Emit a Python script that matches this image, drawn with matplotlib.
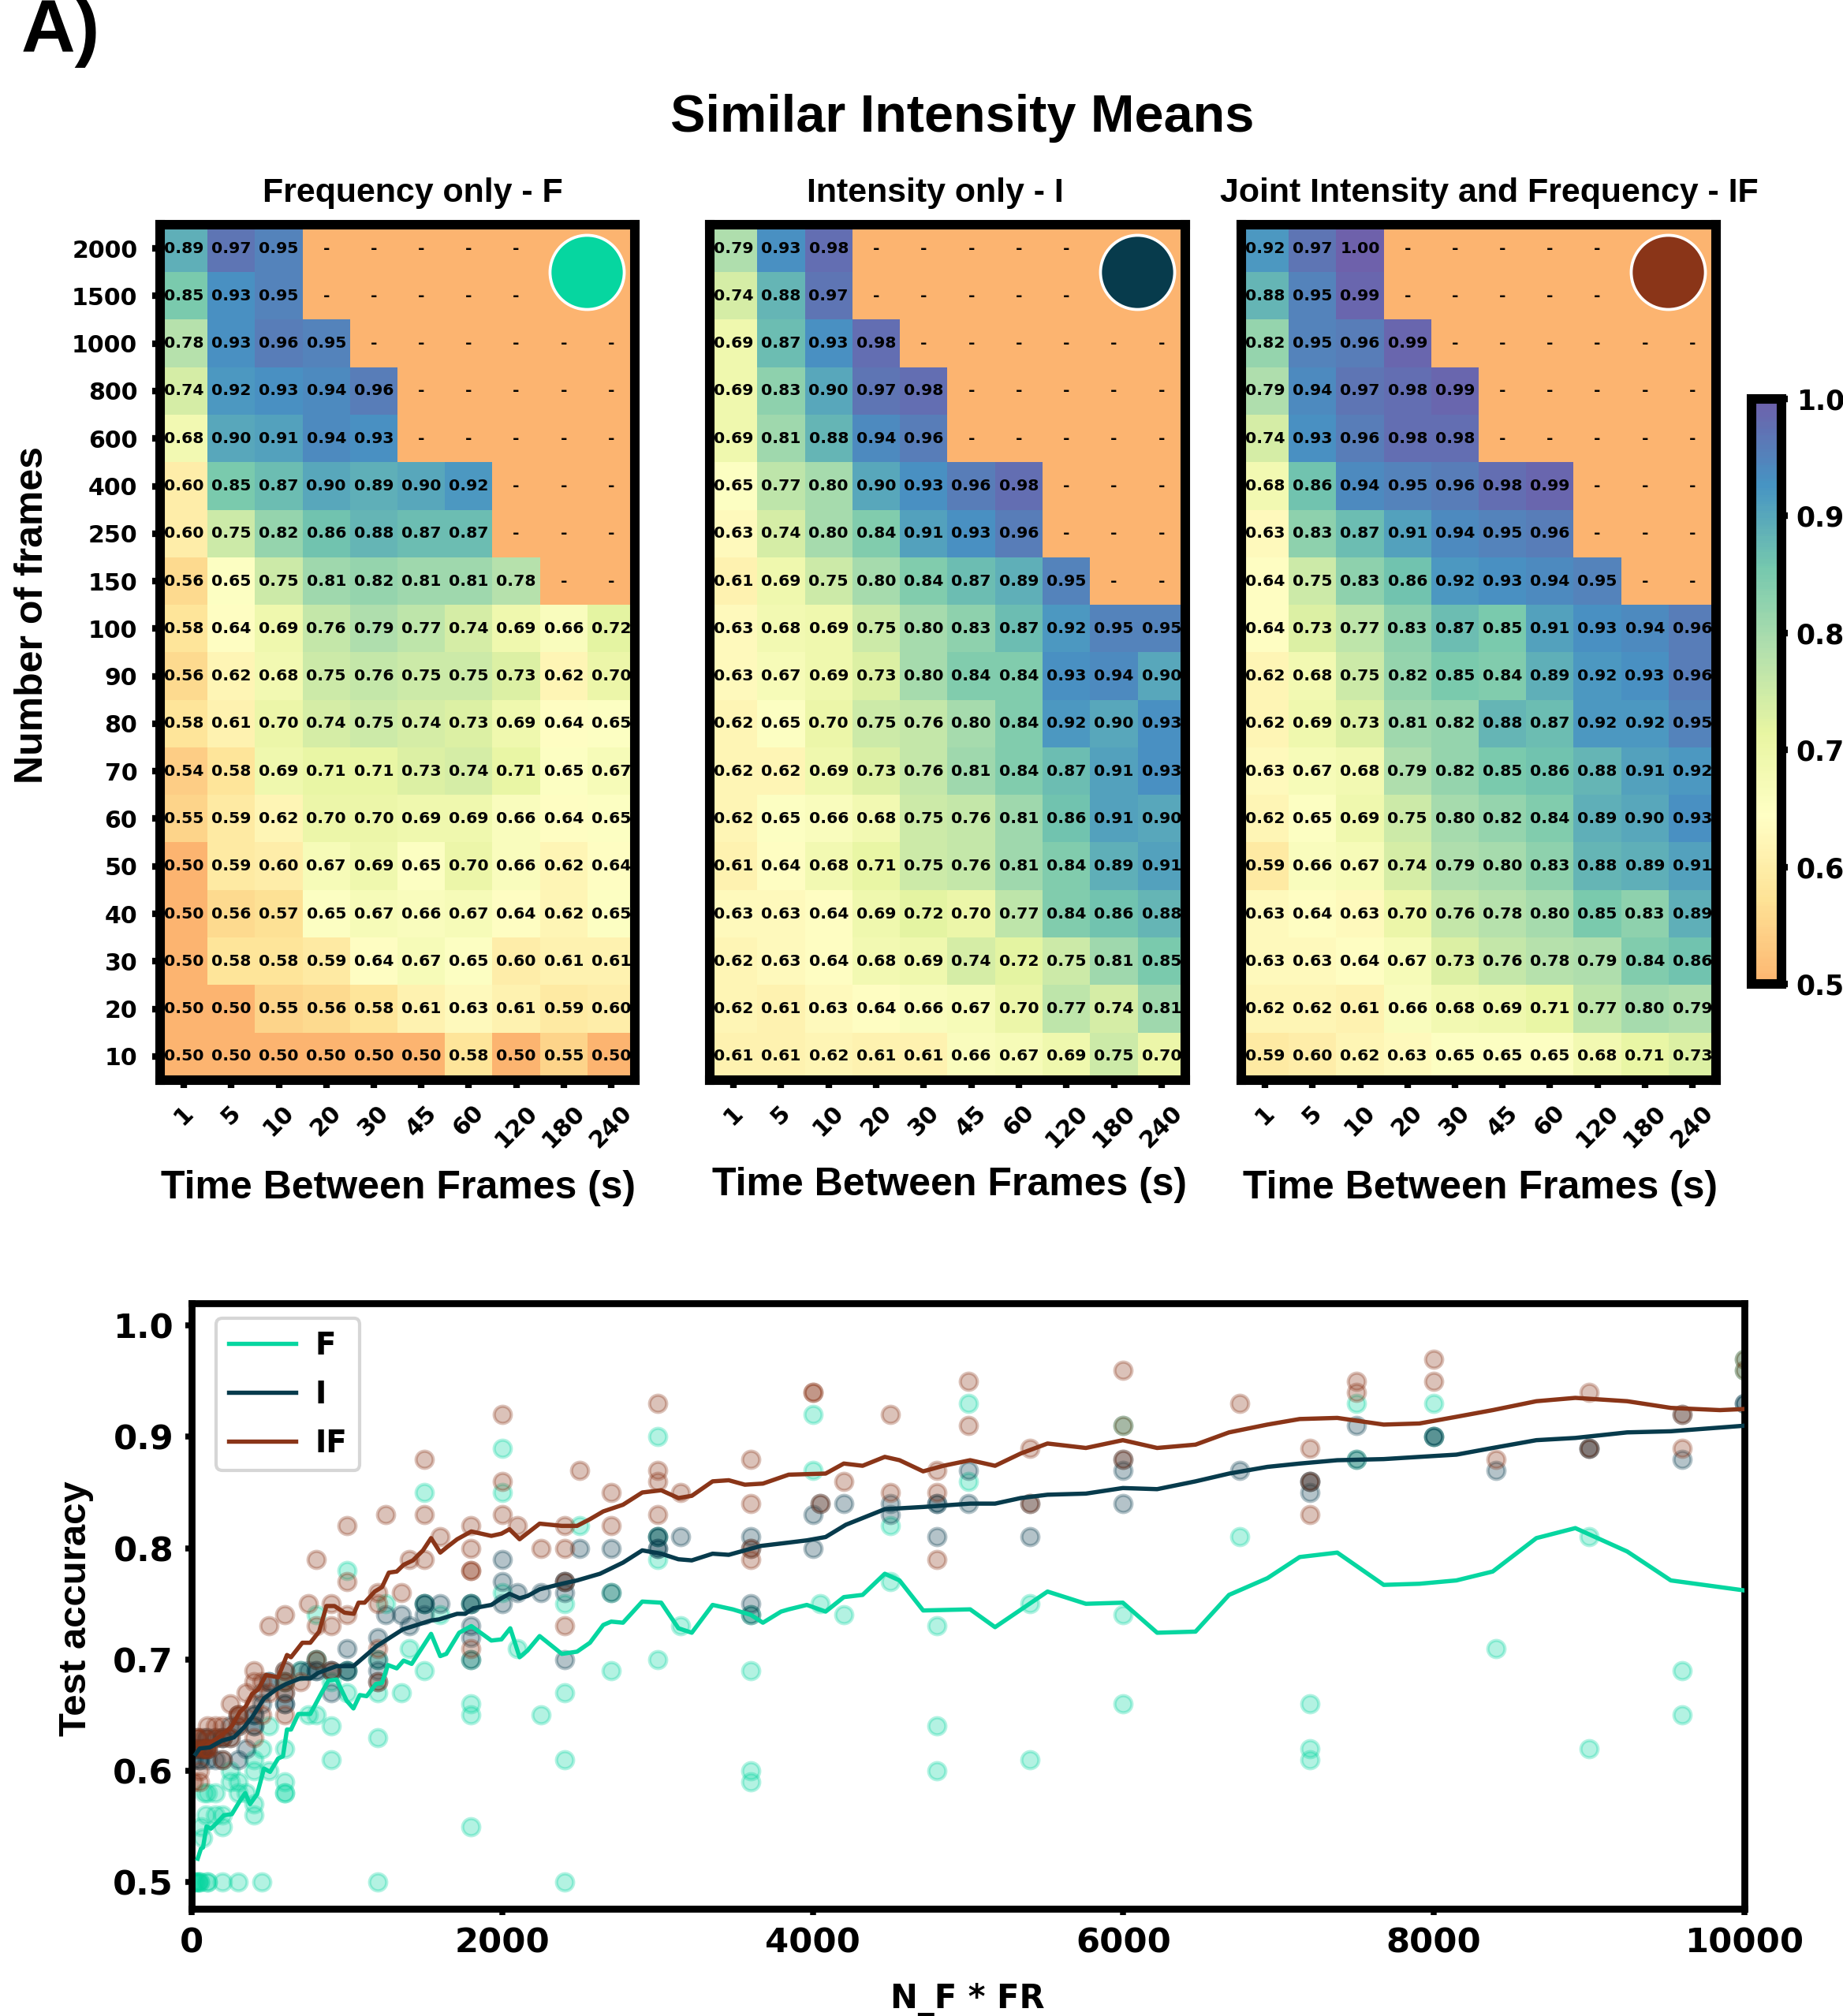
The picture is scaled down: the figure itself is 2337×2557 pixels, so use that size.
import numpy as np
import matplotlib
matplotlib.use("Agg")
import matplotlib.pyplot as plt
from matplotlib.colors import LinearSegmentedColormap

W, H = 2337, 2557
DPI = 300

frames = [2000, 1500, 1000, 800, 600, 400, 250, 150, 100, 90, 80, 70, 60, 50, 40, 30, 20, 10]
times = [1, 5, 10, 20, 30, 45, 60, 120, 180, 240]

N = None
acc_f = [
    [.89, .97, .95, N, N, N, N, N, N, N],
    [.85, .93, .95, N, N, N, N, N, N, N],
    [.78, .93, .96, .95, N, N, N, N, N, N],
    [.74, .92, .93, .94, .96, N, N, N, N, N],
    [.68, .90, .91, .94, .93, N, N, N, N, N],
    [.60, .85, .87, .90, .89, .90, .92, N, N, N],
    [.60, .75, .82, .86, .88, .87, .87, N, N, N],
    [.56, .65, .75, .81, .82, .81, .81, .78, N, N],
    [.58, .64, .69, .76, .79, .77, .74, .69, .66, .72],
    [.56, .62, .68, .75, .76, .75, .75, .73, .62, .70],
    [.58, .61, .70, .74, .75, .74, .73, .69, .64, .65],
    [.54, .58, .69, .71, .71, .73, .74, .71, .65, .67],
    [.55, .59, .62, .70, .70, .69, .69, .66, .64, .65],
    [.50, .59, .60, .67, .69, .65, .70, .66, .62, .64],
    [.50, .56, .57, .65, .67, .66, .67, .64, .62, .65],
    [.50, .58, .58, .59, .64, .67, .65, .60, .61, .61],
    [.50, .50, .55, .56, .58, .61, .63, .61, .59, .60],
    [.50, .50, .50, .50, .50, .50, .58, .50, .55, .50],
]
acc_i = [
    [.79, .93, .98, N, N, N, N, N, N, N],
    [.74, .88, .97, N, N, N, N, N, N, N],
    [.69, .87, .93, .98, N, N, N, N, N, N],
    [.69, .83, .90, .97, .98, N, N, N, N, N],
    [.69, .81, .88, .94, .96, N, N, N, N, N],
    [.65, .77, .80, .90, .93, .96, .98, N, N, N],
    [.63, .74, .80, .84, .91, .93, .96, N, N, N],
    [.61, .69, .75, .80, .84, .87, .89, .95, N, N],
    [.63, .68, .69, .75, .80, .83, .87, .92, .95, .95],
    [.63, .67, .69, .73, .80, .84, .84, .93, .94, .90],
    [.62, .65, .70, .75, .76, .80, .84, .92, .90, .93],
    [.62, .62, .69, .73, .76, .81, .84, .87, .91, .93],
    [.62, .65, .66, .68, .75, .76, .81, .86, .91, .90],
    [.61, .64, .68, .71, .75, .76, .81, .84, .89, .91],
    [.63, .63, .64, .69, .72, .70, .77, .84, .86, .88],
    [.62, .63, .64, .68, .69, .74, .72, .75, .81, .85],
    [.62, .61, .63, .64, .66, .67, .70, .77, .74, .81],
    [.61, .61, .62, .61, .61, .66, .67, .69, .75, .70],
]
acc_if = [
    [.92, .97, 1.00, N, N, N, N, N, N, N],
    [.88, .95, .99, N, N, N, N, N, N, N],
    [.82, .95, .96, .99, N, N, N, N, N, N],
    [.79, .94, .97, .98, .99, N, N, N, N, N],
    [.74, .93, .96, .98, .98, N, N, N, N, N],
    [.68, .86, .94, .95, .96, .98, .99, N, N, N],
    [.63, .83, .87, .91, .94, .95, .96, N, N, N],
    [.64, .75, .83, .86, .92, .93, .94, .95, N, N],
    [.64, .73, .77, .83, .87, .85, .91, .93, .94, .96],
    [.62, .68, .75, .82, .85, .84, .89, .92, .93, .96],
    [.62, .69, .73, .81, .82, .88, .87, .92, .92, .95],
    [.63, .67, .68, .79, .82, .85, .86, .88, .91, .92],
    [.62, .65, .69, .75, .80, .82, .84, .89, .90, .93],
    [.59, .66, .67, .74, .79, .80, .83, .88, .89, .91],
    [.63, .64, .63, .70, .76, .78, .80, .85, .83, .89],
    [.63, .63, .64, .67, .73, .76, .78, .79, .84, .86],
    [.62, .62, .61, .66, .68, .69, .71, .77, .80, .79],
    [.59, .60, .62, .63, .65, .65, .65, .68, .71, .73],
]

# trend lines
line_f_x = [39, 60, 73, 96, 124, 168, 207, 259, 311, 345, 376, 422, 466, 505, 557, 588, 614, 640, 687, 764,
            829, 881, 933, 998, 1042, 1083, 1127, 1187, 1226, 1264, 1321, 1365, 1417, 1542, 1601, 1640, 1723,
            1801, 1930, 1995, 2052, 2112, 2163, 2241, 2384, 2482, 2565, 2651, 2702, 2778, 2902, 3024, 3135,
            3221, 3355, 3485, 3602, 3679, 3796, 3845, 3962, 4083, 4200, 4321, 4464, 4559, 4711, 5014, 5174,
            5512, 5759, 5997, 6218, 6465, 6681, 6928, 7136, 7378, 7677, 7907, 8145, 8379, 8660, 8911, 9245,
            9526, 10000]
line_f_y = [.521, .530, .531, .550, .548, .554, .560, .561, .573, .580, .570, .579, .602, .599, .611, .613,
            .637, .637, .651, .651, .668, .681, .682, .663, .656, .668, .667, .678, .679, .695, .692, .699,
            .696, .723, .703, .705, .724, .730, .717, .718, .728, .702, .708, .721, .705, .707, .715, .731,
            .734, .733, .752, .751, .728, .724, .749, .745, .740, .733, .743, .745, .749, .743, .756, .758,
            .777, .771, .744, .745, .729, .761, .750, .751, .724, .725, .758, .773, .792, .796, .767, .768,
            .771, .779, .809, .818, .797, .771, .762]
line_i_x = [26, 52, 117, 194, 272, 337, 389, 466, 544, 609, 700, 764, 816, 933, 1042, 1192, 1360, 1542, 1593,
            1710, 1762, 1814, 1930, 1995, 2047, 2112, 2163, 2241, 2384, 2482, 2630, 2778, 2902, 3024, 3135,
            3221, 3355, 3459, 3666, 3845, 3962, 4083, 4213, 4464, 4711, 5014, 5174, 5339, 5512, 5759, 5997,
            6218, 6465, 6681, 6928, 7136, 7378, 7677, 7907, 8145, 8379, 8660, 8911, 9245, 9526, 10000]
line_i_y = [.615, .620, .621, .627, .630, .639, .648, .665, .673, .678, .683, .683, .688, .694, .694, .712,
            .727, .735, .736, .741, .741, .746, .749, .755, .759, .755, .757, .763, .768, .771, .777, .787,
            .798, .795, .790, .789, .795, .794, .802, .805, .807, .810, .821, .835, .837, .840, .840, .845,
            .848, .849, .854, .853, .860, .867, .873, .876, .879, .880, .882, .884, .890, .897, .899, .904,
            .905, .910]
line_if_x = [39, 78, 130, 194, 259, 311, 350, 389, 428, 479, 557, 614, 640, 713, 764, 821, 868, 920, 985, 1044,
             1075, 1114, 1179, 1226, 1270, 1321, 1365, 1425, 1490, 1542, 1601, 1645, 1710, 1801, 1930, 1995,
             2047, 2112, 2241, 2384, 2482, 2565, 2651, 2778, 2902, 3024, 3135, 3221, 3355, 3459, 3563, 3679,
             3845, 4083, 4200, 4321, 4464, 4559, 4711, 4841, 5014, 5174, 5339, 5512, 5759, 5997, 6218, 6465,
             6681, 6928, 7136, 7378, 7677, 7907, 8145, 8379, 8660, 8911, 9245, 9526, 9842, 10000]
line_if_y = [.617, .620, .626, .632, .640, .653, .658, .669, .673, .686, .684, .704, .702, .715, .715, .725,
             .748, .748, .742, .741, .751, .751, .761, .765, .778, .779, .785, .789, .798, .809, .796, .801,
             .808, .815, .811, .813, .817, .808, .822, .820, .820, .826, .833, .839, .850, .852, .845, .847,
             .860, .861, .857, .858, .866, .867, .876, .874, .882, .879, .869, .874, .879, .874, .885, .894,
             .890, .897, .890, .893, .904, .911, .916, .917, .911, .912, .918, .924, .932, .935, .932, .926,
             .924, .925]

COL_F = "#06D6A0"
COL_I = "#073B4C"
COL_IF = "#8A3518"
HEAD = "Liberation Sans"

plt.rcParams["font.family"] = "DejaVu Sans"
plt.rcParams["font.weight"] = "bold"

fig = plt.figure(figsize=(W / DPI, H / DPI), dpi=DPI)


def px_axes(left, top, right, bottom):
    return fig.add_axes([left / W, 1 - bottom / H, (right - left) / W, (bottom - top) / H])


def px_text(x, y, s, **kw):
    return fig.text(x / W, 1 - y / H, s, family=HEAD, fontweight="bold", **kw)


spectral = plt.get_cmap("Spectral")
cmap = LinearSegmentedColormap.from_list("spec_cut", spectral(np.linspace(0.3, 1.0, 256)))
cmap.set_bad(spectral(0.3))

panels = [
    (acc_f, COL_F, (203, 805), (523, 256, "Frequency only - F"), (505, 1520)),
    (acc_i, COL_I, (900, 1503), (1186, 256, "Intensity only - I"), (1204, 1516)),
    (acc_if, COL_IF, (1574, 2176), (1888, 256, "Joint Intensity and Frequency - IF"), (1877, 1520)),
]

im = None
for k, (rows, col, (x0, x1), ttl, xl) in enumerate(panels):
    ax = px_axes(x0, 285, x1, 1370)
    vals = np.array(rows, dtype=float)
    im = ax.imshow(vals, cmap=cmap, vmin=0.5, vmax=1.0, aspect="auto", alpha=0.9, interpolation="nearest")
    for i in range(vals.shape[0]):
        for j in range(vals.shape[1]):
            txt = "-" if np.isnan(vals[i, j]) else f"{vals[i, j]:.2f}"
            ax.text(j, i, txt, ha="center", va="center", fontsize=4.9, fontweight="bold", color="black", clip_on=True)
    ax.set_xticks(range(len(times)))
    ax.set_xticklabels(times, rotation=45, fontsize=7.2)
    ax.tick_params(axis="x", width=2, length=2.4, pad=4)
    if k == 0:
        ax.set_yticks(range(len(frames)))
        ax.set_yticklabels(frames, fontsize=7.2)
        ax.tick_params(axis="y", width=2, length=2.4, pad=4.5)
    else:
        ax.set_yticks([])
    for sp in ax.spines.values():
        sp.set_linewidth(2.9)
    ax.scatter([0.899], [0.945], s=510, color=col, edgecolor="white", linewidth=0.9,
               transform=ax.transAxes, zorder=5)
    px_text(ttl[0], ttl[1], ttl[2], fontsize=10.3, ha="center", va="baseline")
    px_text(xl[0], xl[1], "Time Between Frames (s)", fontsize=12, ha="center", va="baseline")

px_text(41, 780, "Number of frames", fontsize=12, rotation=90, ha="center", va="center")
px_text(1220, 167, "Similar Intensity Means", fontsize=16, ha="center", va="baseline")
px_text(27, 66, "A)", fontsize=22.8, ha="left", va="baseline")

cax = px_axes(2221, 506, 2259, 1248)
cbar = fig.colorbar(im, cax=cax)
cbar.set_ticks([0.5, 0.6, 0.7, 0.8, 0.9, 1.0])
cbar.ax.tick_params(labelsize=8.3, width=2, length=2, pad=2.5)
cbar.outline.set_linewidth(2.9)

# lower panel: every heatmap cell again, against N_F * FR
ax2 = px_axes(243, 1653, 2212, 2421)
t_grid, f_grid = np.meshgrid(times, frames)
for rows, col in [(acc_f, COL_F), (acc_i, COL_I), (acc_if, COL_IF)]:
    vals = np.array(rows, dtype=float)
    ok = ~np.isnan(vals)
    ax2.scatter((t_grid * f_grid)[ok], vals[ok], s=27, color=col, alpha=0.3)
ax2.plot(line_if_x, line_if_y, color=COL_IF, lw=1.3, label="IF", zorder=3)
ax2.plot(line_f_x, line_f_y, color=COL_F, lw=1.3, label="F", zorder=3)
ax2.plot(line_i_x, line_i_y, color=COL_I, lw=1.3, label="I", zorder=4)
ax2.set_xlim(0, 10000)
ax2.set_ylim(0.476, 1.02)
ax2.set_xticks([0, 2000, 4000, 6000, 8000, 10000])
ax2.set_yticks([0.5, 0.6, 0.7, 0.8, 0.9, 1.0])
ax2.tick_params(labelsize=10.4, width=1.8, length=2, pad=3.5)
for sp in ax2.spines.values():
    sp.set_linewidth(2.1)
h, l = ax2.get_legend_handles_labels()
order = [l.index("F"), l.index("I"), l.index("IF")]
ax2.legend([h[i] for i in order], [l[i] for i in order], loc="upper left", fontsize=9.3,
           labelspacing=0.62, handlelength=2.2, handletextpad=0.65, borderaxespad=0,
           bbox_to_anchor=(31 / 1969, 1 - 19 / 768))
fig.text(1227 / W, 1 - 2547 / H, "N_F * FR", fontsize=10, ha="center", va="baseline")
px_text(97, 2040, "Test accuracy", fontsize=11.8, rotation=90, ha="center", va="center")

fig.savefig("out.png", dpi=DPI)
